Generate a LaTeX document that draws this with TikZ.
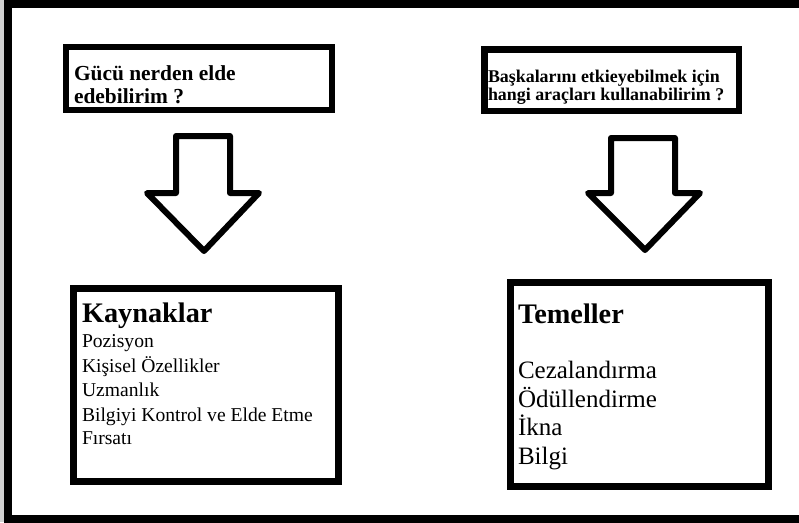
\documentclass[tikz,border=0pt]{standalone}
\usepackage{fontspec}
\setmainfont{Liberation Serif}
\begin{document}
\begin{tikzpicture}[x=1pt,y=-1pt,
  qbox/.style={draw=black,line width=6.5pt,minimum width=#1,inner sep=0pt,fill=white},
  rbox/.style={draw=black,line width=7pt,inner sep=0pt,fill=white},
  blockarrow/.style={draw=black,line width=6pt,line join=round,fill=white},
  txt/.style={anchor=base west,inner sep=0pt,outer sep=0pt,text=black},
  qfont/.style={font=\fontsize{21.4}{23}\selectfont\bfseries},
  qfontb/.style={font=\fontsize{17.9}{19}\selectfont\bfseries},
  hfont/.style={font=\fontsize{28.3}{30}\selectfont\bfseries},
  lfont/.style={font=\fontsize{19.6}{22}\selectfont},
  rfont/.style={font=\fontsize{25}{28}\selectfont}]
\useasboundingbox (0,0) rectangle (799,522);
\fill[black!18] (0,0) rectangle (4,522);
\begin{scope}
  \clip (0,0) rectangle (799,522);
  \draw[line width=8pt] (805,4) -- (8,4) -- (8,519) -- (805,519);
\end{scope}
% question boxes
\node[qbox, minimum width=266pt, minimum height=63pt] (q1) at (199,78.5) {};
\node[qbox, minimum width=254.5pt, minimum height=61.5pt] (q2) at (611.5,80) {};
\node[txt,qfont] (q1a) at (74,80) {Gücü nerden elde};
\node[txt,qfont] (q1b) at (74,103) {edebilirim ?};
\node[txt,qfontb] (q2a) at (488,82) {Başkalarını etkieyebilmek için};
\node[txt,qfontb] (q2b) at (488,100.5) {hangi araçları kullanabilirim ?};
% block arrows
\draw[blockarrow] (176,136) -- (230,136) -- (230,193) -- (259,193) -- (204,251) -- (147,193) -- (176,193) -- cycle;
\draw[blockarrow] (611,138) -- (675,138) -- (675,193) -- (700,193) -- (645,250) -- (588,193) -- (611,193) -- cycle;
% result boxes
\node[rbox, minimum width=265pt, minimum height=193pt] (r1) at (206,385) {};
\node[rbox, minimum width=258pt, minimum height=204pt] (r2) at (639.5,384.5) {};
\node[txt,hfont] (k0) at (82,322) {Kaynaklar};
\node[txt,lfont] (k1) at (82,347) {Pozisyon};
\node[txt,lfont] (k2) at (82,372) {Kişisel Özellikler};
\node[txt,lfont] (k3) at (82,396) {Uzmanlık};
\node[txt,lfont] (k4) at (82,421) {Bilgiyi Kontrol ve Elde Etme};
\node[txt,lfont] (k5) at (82,444.5) {Fırsatı};
\node[txt,hfont] (t0) at (518,323) {Temeller};
\node[txt,rfont] (t1) at (518,378) {Cezalandırma};
\node[txt,rfont] (t2) at (518,407) {Ödüllendirme};
\node[txt,rfont] (t3) at (518,435.5) {İkna};
\node[txt,rfont] (t4) at (518,464) {Bilgi};
\end{tikzpicture}
\end{document}
